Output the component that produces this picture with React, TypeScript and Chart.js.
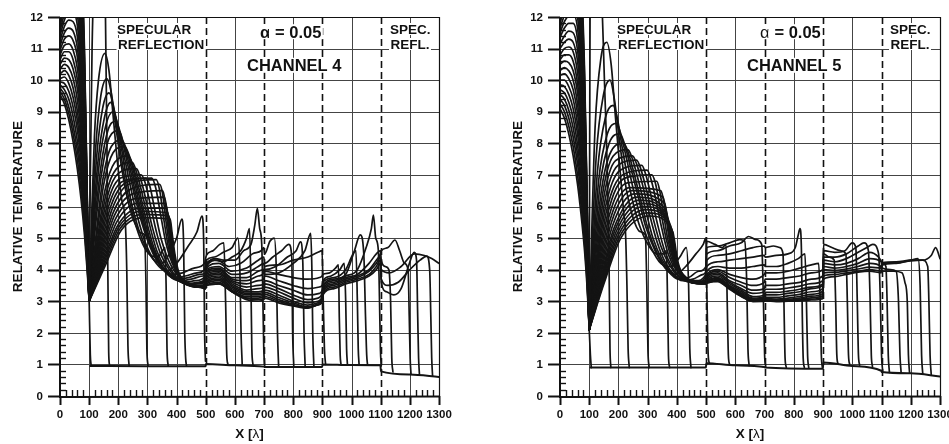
import React, { useEffect, useRef } from 'react';
import { Chart, registerables } from 'chart.js';

Chart.register(...registerables);

const FONT = '"Liberation Sans", Arial, Helvetica, sans-serif';
const X_TICKS = [0, 100, 200, 300, 400, 500, 600, 700, 800, 900, 1000, 1100, 1200, 1300];
const Y_TICKS = [0, 1, 2, 3, 4, 5, 6, 7, 8, 9, 10, 11, 12];
const DASHED_X = [500, 700, 900, 1100];
const FAN_X = [0, 15, 30, 45, 60, 72, 84, 93, 100];

// ---------------- CHANNEL 4 ----------------
const CH4_FAN: number[][] = [
  [9.55, 9.25, 8.75, 8.05, 7.15, 6.25, 5.1, 4.0, 3.0],
  [9.65, 9.4, 8.95, 8.3, 7.45, 6.55, 5.35, 4.15, 3.0],
  [9.75, 9.55, 9.15, 8.55, 7.75, 6.85, 5.55, 4.25, 3.0],
  [9.85, 9.7, 9.4, 8.85, 8.05, 7.1, 5.75, 4.35, 3.0],
  [9.95, 9.9, 9.65, 9.15, 8.4, 7.4, 5.95, 4.45, 3.0],
  [10.05, 10.1, 9.9, 9.45, 8.7, 7.7, 6.15, 4.55, 3.0],
  [10.2, 10.3, 10.15, 9.75, 9.0, 8.0, 6.35, 4.65, 3.0],
  [10.35, 10.5, 10.4, 10.05, 9.35, 8.3, 6.55, 4.75, 3.0],
  [10.5, 10.7, 10.65, 10.35, 9.7, 8.6, 6.8, 4.85, 3.0],
  [10.65, 10.9, 10.9, 10.65, 10.0, 8.9, 7.0, 4.95, 3.0],
  [10.8, 11.1, 11.15, 10.95, 10.35, 9.2, 7.2, 5.05, 3.0],
  [10.95, 11.3, 11.4, 11.25, 10.7, 9.5, 7.45, 5.15, 3.0],
  [11.1, 11.5, 11.65, 11.55, 11.0, 9.8, 7.7, 5.25, 3.0],
  [11.25, 11.7, 11.9, 11.85, 11.35, 10.1, 7.95, 5.35, 3.0],
  [11.4, 11.9, 12.15, 12.15, 11.7, 10.4, 8.2, 5.45, 3.0],
  [11.55, 12.1, 12.4, 12.45, 12.05, 10.75, 8.45, 5.55, 3.0],
  [11.7, 12.3, 12.65, 12.75, 12.4, 11.1, 8.7, 5.65, 3.0],
  [11.85, 12.5, 12.9, 13.05, 12.75, 11.45, 8.95, 5.75, 3.0],
  [12.0, 12.7, 13.15, 13.35, 13.1, 11.8, 9.2, 5.85, 3.0],
  [12.2, 12.9, 13.4, 13.65, 13.45, 12.15, 9.45, 5.95, 3.0],
  [12.4, 13.1, 13.65, 13.95, 13.8, 12.5, 9.7, 6.05, 3.0],
  [12.6, 13.3, 13.9, 14.25, 14.15, 12.85, 9.95, 6.15, 3.0],
  [12.8, 13.5, 14.15, 14.55, 14.5, 13.2, 10.2, 6.25, 3.0],
  [13.0, 13.7, 14.4, 14.85, 14.85, 13.55, 10.45, 6.35, 3.0],
  [13.2, 13.9, 14.65, 15.15, 15.2, 13.9, 10.7, 6.45, 3.0],
  [13.4, 14.1, 14.9, 15.45, 15.55, 14.25, 10.95, 6.55, 3.0],
];

const CH4_TAIL: number[][][] = [
  [[104, 1.3], [107, 0.95]],
  [[104, 7], [110, 11], [118, 13.5], [135, 14.5], [150, 13.5], [156, 12], [161, 8], [164, 4], [167, 1.4], [170, 0.95]],
  [[108, 5.5], [118, 8.2], [132, 10.0], [154, 10.85], [168, 10.3], [182, 8.9], [197, 7.4], [212, 6.2], [224, 5.5], [229, 4], [233, 1.6], [237, 0.95]],
  [[110, 5.6], [122, 7.8], [140, 9.5], [161, 10.05], [176, 9.6], [192, 8.5], [212, 7.2], [235, 6.1], [260, 5.4], [280, 5.15], [290, 5.1], [295, 3.5], [298, 1.5], [302, 0.95]],
  [[112, 5.6], [126, 7.6], [146, 9.1], [168, 9.6], [183, 9.2], [200, 8.2], [222, 6.9], [248, 5.8], [275, 5.0], [305, 4.5], [335, 4.4], [352, 4.6], [360, 4.7], [364, 3.5], [367, 1.5], [371, 0.95]],
  [[114, 5.5], [130, 7.4], [152, 8.8], [174, 9.3], [190, 8.9], [208, 8.0], [230, 6.8], [256, 5.7], [285, 4.9], [318, 4.35], [348, 4.2], [375, 4.5], [400, 5.0], [418, 5.6], [424, 4.8], [428, 2], [431, 1.2], [434, 0.95]],
  [[116, 5.4], [134, 7.3], [158, 8.6], [182, 9.0], [198, 8.6], [218, 7.7], [240, 6.7], [265, 5.7], [295, 4.8], [330, 4.2], [365, 3.95], [400, 4.2], [440, 4.75], [470, 5.2], [487, 5.7], [493, 4.8], [496, 2], [499, 1.1]],
  [[118, 5.3], [138, 7.1], [164, 8.4], [192, 8.7], [208, 8.3], [228, 7.5], [252, 6.5], [280, 5.5], [310, 4.7], [345, 4.1], [380, 3.85], [420, 3.9], [460, 4.05], [496, 4.2], [502, 4.45], [525, 4.6], [548, 4.8], [562, 4.85], [568, 3], [572, 1.3], [576, 1.0]],
  [[120, 5.2], [142, 7.0], [170, 8.2], [202, 8.4], [218, 8.0], [238, 7.3], [262, 6.3], [290, 5.3], [320, 4.55], [355, 4.0], [390, 3.75], [430, 3.8], [470, 3.9], [496, 4.0], [502, 4.3], [530, 4.4], [560, 4.55], [590, 4.7], [610, 5.0], [617, 4], [621, 2], [625, 1.0]],
  [[122, 4.95], [146, 6.8], [176, 7.9], [212, 8.1], [228, 7.8], [248, 7.1], [272, 6.1], [300, 5.1], [330, 4.4], [365, 3.9], [400, 3.7], [440, 3.75], [480, 3.85], [498, 3.9], [502, 4.2], [530, 4.3], [560, 4.25], [590, 4.4], [620, 4.6], [640, 5.0], [650, 5.3], [655, 3.5], [658, 1.5], [662, 0.98]],
  [[124, 4.9], [150, 6.7], [182, 7.7], [222, 7.9], [238, 7.6], [258, 6.9], [282, 5.9], [310, 4.9], [340, 4.25], [375, 3.8], [410, 3.65], [450, 3.7], [490, 3.8], [499, 3.85], [502, 4.15], [535, 4.35], [560, 4.3], [600, 4.3], [630, 4.6], [655, 4.8], [668, 5.4], [677, 5.94], [685, 5.3], [692, 4.8], [696, 3], [699, 1.5], [702, 0.93]],
  [[126, 4.8], [154, 6.5], [188, 7.4], [235, 7.6], [250, 7.3], [270, 6.6], [295, 5.6], [322, 4.7], [352, 4.1], [388, 3.75], [425, 3.6], [465, 3.65], [499, 3.8], [502, 4.1], [540, 4.3], [580, 4.1], [620, 4.2], [660, 4.5], [690, 4.6], [699, 4.7], [702, 4.5], [720, 4.9], [735, 5.0], [742, 4], [746, 2], [750, 0.93]],
  [[128, 4.75], [158, 6.4], [194, 7.2], [248, 7.4], [262, 7.1], [282, 6.4], [305, 5.5], [332, 4.6], [362, 4.05], [398, 3.7], [435, 3.55], [475, 3.6], [499, 3.75], [502, 4.05], [545, 4.2], [590, 3.95], [640, 4.05], [680, 4.3], [699, 4.4], [702, 4.2], [730, 4.4], [760, 4.6], [785, 4.8], [795, 4.4], [798, 2], [802, 0.92]],
  [[130, 4.7], [162, 6.3], [200, 7.05], [262, 7.2], [276, 6.9], [295, 6.2], [318, 5.3], [345, 4.5], [375, 4.0], [410, 3.65], [445, 3.55], [485, 3.6], [499, 3.7], [502, 4.0], [545, 4.1], [590, 3.85], [640, 3.9], [680, 4.1], [699, 4.2], [702, 4.0], [740, 4.1], [780, 4.4], [810, 4.6], [825, 4.88], [833, 4.2], [837, 2], [841, 0.92]],
  [[132, 4.65], [166, 6.2], [208, 6.9], [278, 7.0], [292, 6.75], [310, 6.05], [332, 5.15], [358, 4.4], [388, 3.9], [420, 3.6], [455, 3.55], [490, 3.6], [499, 3.65], [502, 3.95], [545, 4.05], [590, 3.75], [640, 3.75], [680, 3.95], [699, 4.0], [702, 3.85], [750, 3.9], [800, 4.2], [840, 4.6], [860, 5.15], [864, 4], [867, 2], [871, 0.92]],
  [[134, 4.6], [170, 6.1], [216, 6.8], [295, 6.9], [308, 6.65], [325, 5.9], [346, 5.0], [372, 4.3], [400, 3.85], [432, 3.6], [465, 3.55], [499, 3.6], [502, 3.9], [545, 4.0], [590, 3.7], [640, 3.65], [680, 3.8], [699, 3.9], [702, 4.1], [750, 4.15], [800, 4.3], [850, 4.4], [885, 4.55], [899, 4.6], [903, 3], [907, 1.5], [911, 1.0]],
  [[136, 4.55], [174, 6.0], [225, 6.75], [315, 6.9], [328, 6.6], [344, 5.8], [362, 4.9], [385, 4.2], [412, 3.8], [445, 3.55], [480, 3.5], [499, 3.55], [502, 3.85], [545, 3.95], [590, 3.65], [640, 3.55], [680, 3.65], [699, 3.7], [702, 3.95], [750, 3.85], [800, 3.75], [850, 3.7], [890, 3.75], [899, 3.8], [902, 3.85], [925, 3.9], [945, 4.05], [955, 4.15], [958, 2.5], [961, 1.3], [964, 0.99]],
  [[138, 4.5], [178, 5.9], [234, 6.7], [330, 6.85], [342, 6.5], [356, 5.6], [372, 4.7], [394, 4.05], [420, 3.7], [455, 3.5], [490, 3.5], [499, 3.5], [502, 3.8], [545, 3.9], [590, 3.6], [640, 3.45], [680, 3.5], [699, 3.55], [702, 3.8], [750, 3.65], [800, 3.5], [850, 3.4], [890, 3.45], [899, 3.5], [902, 3.65], [930, 3.8], [960, 4.0], [975, 4.2], [980, 3], [983, 1.5], [986, 0.99]],
  [[140, 4.45], [182, 5.8], [242, 6.55], [342, 6.7], [352, 6.4], [364, 5.5], [380, 4.5], [400, 3.9], [428, 3.6], [462, 3.45], [499, 3.45], [502, 3.75], [545, 3.85], [590, 3.55], [640, 3.35], [680, 3.4], [699, 3.45], [702, 3.65], [750, 3.5], [800, 3.35], [850, 3.2], [890, 3.25], [899, 3.35], [902, 3.6], [940, 3.75], [980, 4.0], [1005, 4.5], [1015, 4.6], [1020, 3], [1023, 1.5], [1026, 0.98]],
  [[142, 4.4], [186, 5.7], [250, 6.4], [352, 6.5], [360, 6.2], [370, 5.4], [385, 4.4], [405, 3.8], [435, 3.55], [470, 3.45], [499, 3.45], [502, 3.7], [545, 3.8], [590, 3.5], [640, 3.3], [680, 3.3], [699, 3.35], [702, 3.55], [750, 3.4], [800, 3.2], [850, 3.05], [885, 3.1], [899, 3.25], [902, 3.5], [940, 3.7], [980, 3.85], [1010, 4.6], [1030, 5.1], [1042, 4.5], [1048, 2.5], [1052, 1.3], [1055, 0.98]],
  [[144, 4.35], [190, 5.6], [258, 6.25], [358, 6.3], [365, 6.0], [374, 5.3], [388, 4.3], [408, 3.75], [440, 3.5], [475, 3.45], [499, 3.4], [502, 3.65], [545, 3.75], [590, 3.45], [640, 3.25], [680, 3.25], [699, 3.3], [702, 3.45], [750, 3.3], [800, 3.1], [850, 2.95], [885, 3.0], [899, 3.15], [902, 3.45], [940, 3.65], [980, 3.8], [1020, 4.0], [1050, 4.7], [1068, 5.3], [1075, 5.73], [1083, 5.0], [1092, 4.6], [1096, 3], [1099, 1.5], [1102, 0.95]],
  [[146, 4.3], [194, 5.5], [266, 6.1], [362, 6.1], [368, 5.8], [378, 5.1], [392, 4.2], [412, 3.7], [445, 3.5], [480, 3.45], [499, 3.4], [502, 3.6], [545, 3.7], [590, 3.4], [640, 3.2], [680, 3.2], [699, 3.25], [702, 3.35], [750, 3.2], [800, 3.0], [850, 2.88], [885, 2.95], [899, 3.1], [902, 3.4], [940, 3.6], [980, 3.75], [1020, 3.85], [1060, 4.2], [1085, 4.5], [1099, 4.6], [1102, 4.3], [1115, 4.1], [1128, 4.0], [1134, 3], [1138, 1.2], [1142, 0.76]],
  [[148, 4.25], [198, 5.4], [274, 5.95], [366, 5.95], [372, 5.6], [382, 4.9], [396, 4.1], [416, 3.65], [450, 3.5], [485, 3.45], [499, 3.4], [502, 3.55], [545, 3.65], [590, 3.35], [640, 3.15], [680, 3.15], [699, 3.2], [702, 3.28], [750, 3.12], [800, 2.95], [850, 2.82], [885, 2.9], [899, 3.05], [902, 3.35], [940, 3.55], [980, 3.7], [1020, 3.8], [1060, 4.0], [1085, 4.3], [1099, 4.5], [1102, 4.6], [1125, 4.7], [1149, 4.94], [1165, 4.6], [1182, 4.2], [1194, 4.0], [1198, 2.5], [1201, 1.2], [1204, 0.7]],
  [[150, 4.2], [202, 5.35], [280, 5.85], [370, 5.8], [376, 5.4], [386, 4.7], [400, 4.0], [420, 3.6], [455, 3.5], [490, 3.45], [499, 3.4], [502, 3.5], [545, 3.6], [590, 3.3], [640, 3.1], [680, 3.1], [699, 3.15], [702, 3.22], [750, 3.05], [800, 2.9], [850, 2.8], [885, 2.88], [899, 3.0], [902, 3.3], [940, 3.5], [980, 3.65], [1020, 3.75], [1060, 3.95], [1085, 4.2], [1099, 4.4], [1102, 3.6], [1120, 3.3], [1145, 3.2], [1170, 3.4], [1195, 4.1], [1215, 4.55], [1223, 4.3], [1227, 2.5], [1230, 1.2], [1233, 0.68]],
  [[152, 4.15], [206, 5.3], [286, 5.75], [374, 5.7], [380, 5.3], [390, 4.6], [404, 3.95], [425, 3.6], [460, 3.5], [499, 3.45], [502, 3.5], [545, 3.55], [590, 3.3], [640, 3.1], [680, 3.05], [699, 3.1], [702, 3.15], [750, 3.0], [800, 2.87], [850, 2.8], [885, 2.9], [899, 3.0], [902, 3.25], [940, 3.45], [980, 3.6], [1020, 3.7], [1060, 3.85], [1085, 4.1], [1099, 4.3], [1102, 3.7], [1125, 3.5], [1160, 3.6], [1200, 4.0], [1235, 4.3], [1258, 4.43], [1268, 4.0], [1272, 2.5], [1275, 1.2], [1278, 0.63]],
  [[154, 4.1], [210, 5.25], [292, 5.65], [378, 5.6], [384, 5.2], [394, 4.5], [408, 3.9], [430, 3.6], [465, 3.5], [499, 3.45], [502, 3.5], [545, 3.55], [590, 3.3], [640, 3.05], [680, 3.0], [699, 3.05], [702, 3.1], [750, 2.95], [800, 2.85], [850, 2.78], [885, 2.9], [899, 2.98], [902, 3.2], [940, 3.4], [980, 3.55], [1020, 3.65], [1060, 3.8], [1085, 4.0], [1099, 4.2], [1102, 4.0], [1130, 3.9], [1170, 4.1], [1215, 4.5], [1250, 4.45], [1275, 4.35], [1300, 4.2]],
];

const CH4_BASE: number[][] = [
  [104, 0.95], [300, 0.94], [499, 0.94], [501, 1.01], [600, 0.97], [699, 0.93], [701, 0.92],
  [899, 0.92], [901, 1.0], [1000, 0.98], [1099, 0.97], [1101, 0.78], [1200, 0.68], [1300, 0.6],
];

// ---------------- CHANNEL 5 ----------------
const CH5_FAN: number[][] = [
  [9.1, 8.8, 8.3, 7.6, 6.7, 5.75, 4.6, 3.4, 2.1],
  [9.25, 9.0, 8.55, 7.9, 7.0, 6.05, 4.85, 3.55, 2.1],
  [9.4, 9.2, 8.8, 8.2, 7.35, 6.35, 5.05, 3.65, 2.1],
  [9.55, 9.4, 9.05, 8.5, 7.65, 6.65, 5.3, 3.75, 2.1],
  [9.7, 9.6, 9.3, 8.8, 7.95, 6.95, 5.5, 3.85, 2.1],
  [9.85, 9.8, 9.55, 9.1, 8.3, 7.25, 5.7, 3.95, 2.1],
  [10.0, 10.0, 9.8, 9.4, 8.6, 7.55, 5.95, 4.05, 2.1],
  [10.15, 10.2, 10.05, 9.7, 8.95, 7.85, 6.15, 4.15, 2.1],
  [10.3, 10.4, 10.3, 10.0, 9.25, 8.15, 6.4, 4.3, 2.1],
  [10.5, 10.6, 10.55, 10.3, 9.6, 8.45, 6.6, 4.4, 2.1],
  [10.65, 10.8, 10.8, 10.6, 9.9, 8.75, 6.85, 4.5, 2.1],
  [10.8, 11.0, 11.05, 10.9, 10.25, 9.05, 7.05, 4.6, 2.1],
  [11.0, 11.2, 11.3, 11.2, 10.6, 9.4, 7.3, 4.75, 2.1],
  [11.15, 11.4, 11.55, 11.5, 10.95, 9.7, 7.55, 4.85, 2.1],
  [11.35, 11.65, 11.8, 11.8, 11.3, 10.0, 7.8, 4.95, 2.1],
  [11.5, 11.85, 12.05, 12.1, 11.65, 10.35, 8.05, 5.1, 2.1],
  [11.65, 12.05, 12.3, 12.4, 12.0, 10.7, 8.3, 5.2, 2.1],
  [11.8, 12.3, 12.55, 12.7, 12.35, 11.0, 8.55, 5.3, 2.1],
  [12.0, 12.5, 12.8, 13.0, 12.7, 11.35, 8.8, 5.45, 2.1],
  [12.2, 12.7, 13.1, 13.3, 13.05, 11.7, 9.05, 5.55, 2.1],
  [12.4, 12.95, 13.4, 13.6, 13.4, 12.05, 9.3, 5.7, 2.1],
  [12.6, 13.2, 13.7, 13.9, 13.75, 12.4, 9.55, 5.8, 2.1],
  [12.8, 13.45, 14.0, 14.2, 14.1, 12.75, 9.8, 5.95, 2.1],
  [13.0, 13.7, 14.3, 14.5, 14.45, 13.1, 10.05, 6.05, 2.1],
  [13.2, 13.95, 14.6, 14.8, 14.8, 13.45, 10.3, 6.2, 2.1],
];

const CH5_TAIL: number[][][] = [
  [[104, 1.3], [107, 0.9]],
  [[101, 6], [103, 12.5], [110, 14], [130, 14], [143, 12.5], [152, 10], [162, 7], [168, 4], [171, 1.5], [174, 0.9]],
  [[108, 5], [120, 8.5], [140, 10.7], [160, 11.2], [175, 10.5], [190, 8.8], [205, 7.2], [218, 5.8], [224, 5.2], [229, 3.5], [233, 1.5], [237, 0.9]],
  [[110, 4.8], [124, 7.6], [148, 9.5], [171, 10.0], [186, 9.4], [202, 8.2], [222, 6.8], [248, 5.7], [275, 5.2], [292, 5.1], [297, 3.5], [301, 1.4], [305, 0.9]],
  [[112, 4.6], [128, 7.1], [155, 8.8], [182, 9.2], [196, 8.8], [214, 7.8], [238, 6.6], [265, 5.6], [295, 4.9], [330, 4.5], [355, 4.5], [364, 4.6], [368, 3], [371, 1.3], [375, 0.9]],
  [[114, 4.5], [132, 6.8], [162, 8.3], [194, 8.63], [208, 8.3], [228, 7.5], [252, 6.5], [280, 5.5], [312, 4.7], [345, 4.2], [380, 4.1], [410, 4.4], [432, 4.7], [440, 3.5], [444, 1.5], [448, 0.9]],
  [[116, 4.4], [136, 6.6], [168, 8.0], [205, 8.3], [220, 8.0], [240, 7.3], [265, 6.4], [292, 5.4], [325, 4.6], [360, 4.05], [395, 3.85], [430, 4.1], [465, 4.5], [490, 4.8], [499, 5.0], [503, 3], [507, 1.3], [511, 1.04]],
  [[118, 4.3], [140, 6.4], [175, 7.75], [218, 8.0], [232, 7.75], [252, 7.1], [276, 6.2], [304, 5.2], [336, 4.45], [370, 3.95], [405, 3.7], [440, 3.75], [475, 3.95], [499, 4.1], [502, 4.9], [530, 4.8], [555, 4.7], [568, 4.8], [572, 3], [576, 1.3], [580, 1.0]],
  [[120, 4.2], [144, 6.3], [182, 7.6], [232, 7.8], [246, 7.55], [266, 6.9], [290, 6.0], [318, 5.0], [350, 4.3], [385, 3.85], [420, 3.65], [455, 3.7], [490, 3.85], [499, 3.95], [502, 4.7], [540, 4.75], [580, 4.85], [615, 4.95], [632, 4.9], [639, 3.5], [643, 1.5], [647, 0.96]],
  [[122, 4.1], [148, 6.2], [190, 7.45], [248, 7.6], [262, 7.35], [282, 6.7], [305, 5.8], [333, 4.85], [362, 4.2], [396, 3.8], [430, 3.65], [465, 3.65], [499, 3.85], [502, 4.5], [540, 4.6], [580, 4.75], [620, 4.85], [645, 5.05], [670, 4.95], [690, 4.8], [696, 3], [700, 1.3], [704, 0.92]],
  [[124, 4.05], [152, 6.1], [198, 7.3], [262, 7.47], [276, 7.2], [295, 6.55], [318, 5.65], [345, 4.75], [374, 4.15], [406, 3.78], [440, 3.62], [475, 3.63], [499, 3.8], [502, 4.3], [540, 4.45], [580, 4.5], [620, 4.6], [660, 4.7], [699, 4.75], [702, 4.7], [730, 4.75], [752, 4.7], [763, 4.5], [767, 2.5], [770, 1.2], [774, 0.91]],
  [[126, 4.05], [156, 6.0], [206, 7.15], [280, 7.3], [292, 7.05], [310, 6.4], [332, 5.5], [358, 4.6], [386, 4.05], [418, 3.72], [452, 3.6], [488, 3.62], [499, 3.72], [502, 4.1], [540, 4.25], [580, 4.3], [620, 4.35], [660, 4.4], [699, 4.45], [702, 4.4], [740, 4.45], [780, 4.5], [805, 4.7], [815, 5.1], [821, 5.3], [826, 4.6], [829, 2.5], [832, 1.2], [836, 0.9]],
  [[128, 4.0], [160, 5.9], [214, 7.0], [298, 7.15], [310, 6.9], [326, 6.3], [346, 5.4], [370, 4.5], [398, 3.98], [430, 3.7], [465, 3.6], [499, 3.68], [502, 3.95], [540, 4.1], [580, 4.05], [620, 4.05], [660, 4.1], [699, 4.15], [702, 4.1], [740, 4.1], [780, 4.2], [815, 4.35], [838, 4.5], [843, 3], [847, 1.3], [851, 0.89]],
  [[130, 3.95], [164, 5.8], [222, 6.9], [314, 7.0], [326, 6.75], [340, 6.1], [358, 5.2], [380, 4.4], [406, 3.9], [438, 3.65], [472, 3.6], [499, 3.65], [502, 3.85], [540, 4.0], [580, 3.85], [620, 3.75], [660, 3.7], [699, 3.85], [702, 3.9], [740, 3.9], [780, 3.95], [820, 4.05], [860, 4.15], [885, 4.2], [890, 3], [894, 1.3], [898, 0.88]],
  [[132, 3.9], [168, 5.7], [230, 6.75], [331, 6.8], [340, 6.55], [352, 5.9], [368, 5.0], [388, 4.3], [412, 3.85], [444, 3.62], [478, 3.58], [499, 3.6], [502, 3.8], [540, 3.95], [580, 3.75], [620, 3.6], [660, 3.5], [699, 3.6], [702, 3.7], [740, 3.7], [780, 3.75], [820, 3.8], [860, 3.9], [899, 4.0], [902, 4.5], [920, 4.4], [938, 4.3], [943, 3], [947, 1.3], [951, 1.02]],
  [[134, 3.85], [172, 5.6], [238, 6.6], [345, 6.5], [352, 6.3], [362, 5.7], [376, 4.85], [394, 4.2], [418, 3.8], [450, 3.6], [484, 3.57], [499, 3.58], [502, 3.75], [540, 3.9], [580, 3.65], [620, 3.5], [660, 3.35], [699, 3.4], [702, 3.5], [740, 3.5], [780, 3.55], [820, 3.6], [860, 3.7], [899, 3.8], [902, 4.8], [930, 4.7], [960, 4.6], [978, 4.5], [983, 3], [987, 1.3], [991, 1.0]],
  [[136, 3.8], [176, 5.5], [246, 6.5], [352, 6.3], [360, 6.0], [370, 5.4], [382, 4.7], [400, 4.1], [424, 3.75], [456, 3.58], [490, 3.56], [499, 3.57], [502, 3.7], [540, 3.85], [580, 3.6], [620, 3.4], [660, 3.25], [699, 3.3], [702, 3.38], [740, 3.38], [780, 3.42], [820, 3.48], [860, 3.56], [899, 3.65], [902, 4.6], [940, 4.55], [975, 4.6], [1000, 4.85], [1012, 4.7], [1017, 3], [1021, 1.3], [1025, 0.98]],
  [[138, 3.77], [180, 5.4], [254, 6.4], [358, 6.1], [365, 5.8], [374, 5.2], [386, 4.55], [404, 4.0], [430, 3.7], [462, 3.57], [499, 3.55], [502, 3.65], [540, 3.8], [580, 3.55], [620, 3.35], [660, 3.15], [699, 3.2], [702, 3.28], [740, 3.28], [780, 3.32], [820, 3.38], [860, 3.45], [899, 3.55], [902, 4.4], [940, 4.4], [980, 4.5], [1020, 4.75], [1040, 4.85], [1055, 4.6], [1061, 3], [1065, 1.3], [1069, 0.93]],
  [[140, 3.73], [184, 5.3], [262, 6.3], [362, 5.9], [368, 5.6], [378, 5.0], [390, 4.4], [408, 3.92], [436, 3.65], [468, 3.56], [499, 3.55], [502, 3.62], [540, 3.75], [580, 3.5], [620, 3.3], [660, 3.1], [699, 3.15], [702, 3.2], [740, 3.2], [780, 3.25], [820, 3.3], [860, 3.4], [899, 3.5], [902, 4.3], [940, 4.25], [980, 4.35], [1020, 4.55], [1050, 4.7], [1070, 4.8], [1090, 4.5], [1096, 3], [1100, 1.3], [1104, 0.78]],
  [[142, 3.7], [188, 5.25], [270, 6.2], [366, 5.75], [372, 5.45], [382, 4.85], [394, 4.3], [412, 3.88], [440, 3.63], [472, 3.56], [499, 3.56], [502, 3.6], [540, 3.72], [580, 3.47], [620, 3.25], [660, 3.07], [699, 3.1], [702, 3.12], [740, 3.12], [780, 3.17], [820, 3.22], [860, 3.3], [899, 3.4], [902, 4.2], [940, 4.15], [980, 4.2], [1020, 4.35], [1060, 4.55], [1090, 4.4], [1105, 4.2], [1115, 4.1], [1119, 3], [1123, 1.3], [1127, 0.75]],
  [[144, 3.68], [192, 5.2], [278, 6.1], [370, 5.6], [376, 5.3], [386, 4.7], [398, 4.2], [416, 3.85], [444, 3.62], [476, 3.57], [499, 3.57], [502, 3.58], [540, 3.7], [580, 3.45], [620, 3.22], [660, 3.05], [699, 3.06], [702, 3.08], [740, 3.07], [780, 3.1], [820, 3.15], [860, 3.22], [899, 3.32], [902, 4.1], [940, 4.05], [980, 4.1], [1020, 4.2], [1060, 4.35], [1099, 4.25], [1102, 4.05], [1130, 4.0], [1150, 3.95], [1158, 3], [1163, 1.3], [1167, 0.74]],
  [[146, 3.66], [196, 5.15], [286, 6.0], [374, 5.5], [380, 5.2], [390, 4.6], [402, 4.1], [420, 3.82], [448, 3.62], [480, 3.58], [499, 3.58], [502, 3.58], [540, 3.68], [580, 3.43], [620, 3.2], [660, 3.03], [699, 3.04], [702, 3.05], [740, 3.04], [780, 3.06], [820, 3.1], [860, 3.16], [899, 3.25], [902, 4.0], [940, 3.98], [980, 4.02], [1020, 4.1], [1060, 4.2], [1099, 4.1], [1102, 3.95], [1140, 3.95], [1170, 3.9], [1180, 3.6], [1188, 3], [1192, 1.3], [1196, 0.72]],
  [[148, 3.64], [200, 5.1], [294, 5.9], [378, 5.4], [384, 5.1], [394, 4.5], [406, 4.05], [424, 3.8], [452, 3.62], [484, 3.59], [499, 3.6], [502, 3.6], [540, 3.66], [580, 3.42], [620, 3.18], [660, 3.02], [699, 3.02], [702, 3.03], [740, 3.02], [780, 3.03], [820, 3.06], [860, 3.11], [899, 3.18], [902, 3.9], [940, 3.92], [980, 3.96], [1020, 4.02], [1060, 4.08], [1099, 4.05], [1102, 4.15], [1150, 4.2], [1200, 4.3], [1225, 4.35], [1232, 3.5], [1237, 1.3], [1241, 0.7]],
  [[150, 3.62], [204, 5.05], [300, 5.8], [382, 5.3], [388, 5.0], [398, 4.4], [410, 4.0], [428, 3.78], [456, 3.62], [488, 3.6], [499, 3.6], [502, 3.62], [540, 3.64], [580, 3.4], [620, 3.16], [660, 3.0], [699, 3.01], [702, 3.02], [740, 3.0], [780, 3.01], [820, 3.03], [860, 3.07], [899, 3.12], [902, 3.8], [940, 3.85], [980, 3.9], [1020, 3.95], [1060, 4.0], [1099, 3.95], [1102, 4.2], [1150, 4.22], [1200, 4.28], [1240, 4.3], [1258, 4.1], [1262, 3], [1266, 1.3], [1270, 0.68]],
  [[152, 3.6], [208, 5.0], [306, 5.7], [386, 5.2], [392, 4.9], [402, 4.3], [414, 3.95], [432, 3.75], [460, 3.62], [492, 3.6], [499, 3.6], [502, 3.63], [540, 3.62], [580, 3.38], [620, 3.15], [660, 2.99], [699, 3.0], [702, 3.01], [740, 2.99], [780, 3.0], [820, 3.01], [860, 3.04], [899, 3.08], [902, 3.7], [940, 3.78], [980, 3.85], [1020, 3.92], [1060, 3.95], [1099, 3.9], [1102, 4.22], [1150, 4.25], [1200, 4.3], [1240, 4.3], [1270, 4.45], [1285, 4.7], [1300, 4.35]],
];

const CH5_BASE: number[][] = [
  [104, 0.9], [300, 0.9], [499, 0.9], [501, 1.04], [600, 0.97], [699, 0.92], [701, 0.9],
  [899, 0.86], [901, 1.06], [1000, 0.95], [1099, 0.8], [1101, 0.76], [1200, 0.72], [1300, 0.62],
];

type PanelProps = {
  fan: number[][];
  tail: number[][][];
  base: number[][];
  channel: string;
  boldAlpha: boolean;
  width: number;
  padLeft: number;
  padRight: number;
};

function buildDatasets(fan: number[][], tail: number[][][], base: number[][]) {
  const lineStyle = {
    borderColor: '#141414',
    borderWidth: 1.7,
    pointRadius: 0,
    fill: false,
    cubicInterpolationMode: 'monotone' as const,
    borderJoinStyle: 'round' as const,
    borderCapStyle: 'round' as const,
  };
  const ds: any[] = [];
  tail.forEach((t, k) => {
    const row = fan[k];
    const vertex = row[row.length - 1];
    ds.push({ ...lineStyle, data: FAN_X.map((x, i) => ({ x, y: row[i] })) });
    ds.push({ ...lineStyle, data: [{ x: 100, y: vertex }].concat(t.map(([x, y]) => ({ x, y }))) });
  });
  ds.push({ ...lineStyle, borderWidth: 2, data: base.map(([x, y]) => ({ x, y })) });
  return ds;
}

function boxText(ctx: CanvasRenderingContext2D, text: string, x: number, yBase: number, font: string) {
  ctx.font = font;
  const m = ctx.measureText(text);
  const asc = m.actualBoundingBoxAscent;
  const desc = m.actualBoundingBoxDescent;
  ctx.fillStyle = '#ffffff';
  ctx.fillRect(x - 1.5, yBase - asc - 1.5, m.width + 3, asc + desc + 3);
  ctx.fillStyle = '#111111';
  ctx.textAlign = 'left';
  ctx.textBaseline = 'alphabetic';
  ctx.fillText(text, x, yBase);
  return m.width;
}

function makeDecor(channel: string, boldAlpha: boolean) {
  return {
    id: 'decor',
    beforeDatasetsDraw(chart: any) {
      const { ctx, chartArea: a, scales } = chart;
      const xs = scales.x;
      const ys = scales.y;
      ctx.save();
      ctx.strokeStyle = '#444444';
      ctx.lineWidth = 1;
      Y_TICKS.forEach((v) => {
        if (v === 0) return;
        const py = Math.round(ys.getPixelForValue(v)) + 0.5;
        ctx.beginPath();
        ctx.moveTo(a.left, py);
        ctx.lineTo(a.right, py);
        ctx.stroke();
      });
      X_TICKS.forEach((v) => {
        if (v === 0 || DASHED_X.includes(v)) return;
        const px = Math.round(xs.getPixelForValue(v)) + 0.5;
        ctx.beginPath();
        ctx.moveTo(px, a.top);
        ctx.lineTo(px, a.bottom);
        ctx.stroke();
      });
      ctx.strokeStyle = '#111111';
      ctx.lineWidth = 1.6;
      ctx.setLineDash([7, 4]);
      DASHED_X.forEach((v) => {
        const px = Math.round(xs.getPixelForValue(v)) + 0.5;
        ctx.beginPath();
        ctx.moveTo(px, a.top);
        ctx.lineTo(px, a.bottom);
        ctx.stroke();
      });
      ctx.setLineDash([]);
      const f1 = `bold 13.5px ${FONT}`;
      boxText(ctx, 'SPECULAR', a.left + 57, a.top + 16.5, f1);
      boxText(ctx, 'REFLECTION', a.left + 58, a.top + 31.5, f1);
      boxText(ctx, 'SPEC.', a.left + 330, a.top + 16.5, f1);
      boxText(ctx, 'REFL.', a.left + 330.5, a.top + 31.5, f1);
      const w = boxText(ctx, 'α', a.left + 200, a.top + 20.7, `${boldAlpha ? 'bold ' : ''}17px ${FONT}`);
      boxText(ctx, ' = 0.05', a.left + 200 + w, a.top + 20.7, `bold 16.5px ${FONT}`);
      boxText(ctx, channel, a.left + 187, a.top + 54.3, `bold 16.5px ${FONT}`);
      ctx.restore();
    },
    afterDatasetsDraw(chart: any) {
      const { ctx, chartArea: a, scales } = chart;
      const xs = scales.x;
      const ys = scales.y;
      ctx.save();
      ctx.strokeStyle = '#111111';
      ctx.lineWidth = 1.4;
      for (let i = 1; i < 60; i++) {
        if (i % 5 === 0) continue;
        const py = Math.round(ys.getPixelForValue(i / 5)) + 0.5;
        ctx.beginPath();
        ctx.moveTo(a.left, py);
        ctx.lineTo(a.left + 6, py);
        ctx.stroke();
      }
      for (let i = 1; i < 65; i++) {
        if (i % 5 === 0) continue;
        const px = Math.round(xs.getPixelForValue(i * 20)) + 0.5;
        ctx.beginPath();
        ctx.moveTo(px, a.bottom);
        ctx.lineTo(px, a.bottom - 6);
        ctx.stroke();
      }
      ctx.lineWidth = 2;
      Y_TICKS.forEach((v) => {
        const py = Math.round(ys.getPixelForValue(v)) + 0.5;
        ctx.beginPath();
        ctx.moveTo(a.left - 12, py);
        ctx.lineTo(a.left, py);
        ctx.stroke();
      });
      X_TICKS.forEach((v) => {
        const px = Math.round(xs.getPixelForValue(v)) + 0.5;
        ctx.beginPath();
        ctx.moveTo(px, a.bottom);
        ctx.lineTo(px, a.bottom + 9);
        ctx.stroke();
      });
      ctx.lineWidth = 2;
      ctx.beginPath();
      ctx.moveTo(a.left, a.top);
      ctx.lineTo(a.left, a.bottom + 1);
      ctx.lineTo(a.right + 1, a.bottom + 0.5);
      ctx.stroke();
      ctx.lineWidth = 1.2;
      ctx.beginPath();
      ctx.moveTo(a.left, a.top + 0.5);
      ctx.lineTo(a.right + 0.5, a.top + 0.5);
      ctx.lineTo(a.right + 0.5, a.bottom);
      ctx.stroke();
      ctx.fillStyle = '#111111';
      ctx.font = `bold 11.5px ${FONT}`;
      ctx.textAlign = 'right';
      ctx.textBaseline = 'middle';
      Y_TICKS.forEach((v) => {
        ctx.fillText(String(v), a.left - 17, ys.getPixelForValue(v) + 0.5);
      });
      ctx.textAlign = 'center';
      X_TICKS.forEach((v) => {
        ctx.fillText(String(v), xs.getPixelForValue(v), a.bottom + 19);
      });
      ctx.font = `bold 13.5px ${FONT}`;
      ctx.save();
      ctx.translate(a.left - 42, (a.top + a.bottom) / 2);
      ctx.rotate(-Math.PI / 2);
      ctx.textAlign = 'center';
      ctx.textBaseline = 'middle';
      ctx.fillText('RELATIVE TEMPERATURE', 0, 0);
      ctx.restore();
      const cx = (a.left + a.right) / 2;
      const ty = a.bottom + 38;
      ctx.textBaseline = 'middle';
      ctx.textAlign = 'left';
      const p1 = 'X [';
      const p2 = 'λ';
      const p3 = ']';
      ctx.font = `bold 13.5px ${FONT}`;
      const w1 = ctx.measureText(p1).width;
      const w3 = ctx.measureText(p3).width;
      ctx.font = `13.5px ${FONT}`;
      const w2 = ctx.measureText(p2).width;
      let sx = cx - (w1 + w2 + w3) / 2;
      ctx.font = `bold 13.5px ${FONT}`;
      ctx.fillText(p1, sx, ty);
      sx += w1;
      ctx.font = `13.5px ${FONT}`;
      ctx.fillText(p2, sx, ty);
      sx += w2;
      ctx.font = `bold 13.5px ${FONT}`;
      ctx.fillText(p3, sx, ty);
      ctx.restore();
    },
  };
}

function Panel(props: PanelProps) {
  const ref = useRef<HTMLCanvasElement | null>(null);
  useEffect(() => {
    if (!ref.current) return;
    const chart = new Chart(ref.current, {
      type: 'line',
      data: { datasets: buildDatasets(props.fan, props.tail, props.base) },
      options: {
        animation: false,
        responsive: false,
        maintainAspectRatio: false,
        devicePixelRatio: 1,
        layout: { padding: { left: props.padLeft, right: props.padRight, top: 17, bottom: 48 } },
        scales: {
          x: { type: 'linear', min: 0, max: 1300, display: false },
          y: { type: 'linear', min: 0, max: 12, display: false },
        },
        plugins: { legend: { display: false }, tooltip: { enabled: false } },
        events: [],
      },
      plugins: [makeDecor(props.channel, props.boldAlpha)],
    } as any);
    return () => chart.destroy();
  }, []);
  return (
    <canvas
      ref={ref}
      width={props.width}
      height={444}
      style={{ display: 'block', width: props.width, height: 444 }}
    />
  );
}

export default function App() {
  return (
    <div
      style={{
        position: 'absolute',
        left: 0,
        top: 0,
        width: 949,
        height: 444,
        background: '#ffffff',
        display: 'flex',
        overflow: 'hidden',
      }}
    >
      <Panel fan={CH4_FAN} tail={CH4_TAIL} base={CH4_BASE} channel="CHANNEL 4" boldAlpha={true} width={475} padLeft={60} padRight={36} />
      <Panel fan={CH5_FAN} tail={CH5_TAIL} base={CH5_BASE} channel="CHANNEL 5" boldAlpha={false} width={474} padLeft={85} padRight={9} />
    </div>
  );
}
